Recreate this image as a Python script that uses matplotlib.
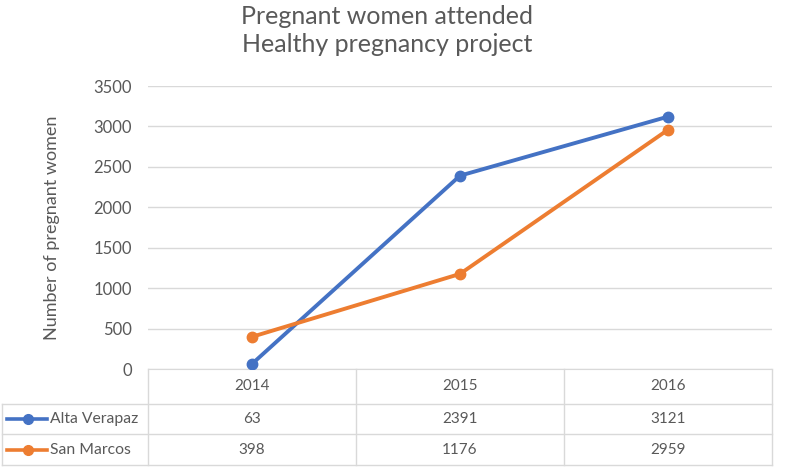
import matplotlib.pyplot as plt
from matplotlib.lines import Line2D

years = ['2014', '2015', '2016']
alta_verapaz = [63, 2391, 3121]
san_marcos = [398, 1176, 2959]
series_names = ['Alta Verapaz', 'San Marcos']
colors = ['#4472C4', '#ED7D31']

plt.rcParams['font.family'] = ['Lato', 'DejaVu Sans']
W, H = 787, 469
fig = plt.figure(figsize=(W / 100, H / 100), dpi=100)

def fx(px):
    return px / W

def fy(py):
    return 1 - py / H

x0, x1, ytop, ybot = 148, 772, 86, 369
ax = fig.add_axes([fx(x0), fy(ybot), fx(x1) - fx(x0), fy(ytop) - fy(ybot)])
xs = range(len(years))
for vals, c in zip([alta_verapaz, san_marcos], colors):
    ax.plot(xs, vals, color=c, lw=2.8, marker='o', ms=7.5, zorder=3)
ax.set_xlim(-0.5, len(years) - 0.5)
ax.set_ylim(0, 3500)
ax.set_yticks(range(0, 3501, 500))
ax.grid(axis='y', color='#D9D9D9', lw=1)
ax.set_xticks([])
for s in ['top', 'right', 'left']:
    ax.spines[s].set_visible(False)
ax.spines['bottom'].set_color('#D9D9D9')
ax.tick_params(axis='y', length=0, pad=11.5, labelsize=12, labelcolor='#595959')
ax.set_ylabel('Number of pregnant women', fontsize=13, color='#595959')
ax.yaxis.set_label_coords(fx(60), 0.5 * (fy(ytop) + fy(ybot)), transform=fig.transFigure)

fig.text(fx(387), fy(16), 'Pregnant women attended', ha='center', va='center',
         fontsize=18, color='#595959')
fig.text(fx(387), fy(45), 'Healthy pregnancy project', ha='center', va='center',
         fontsize=18, color='#595959')

# data table below the plot
grid_c = '#D9D9D9'
rows_y = [369, 404, 434, 465]
col_x = [x0 + i * (x1 - x0) / len(years) for i in range(len(years) + 1)]

def hline(y, xa, xb):
    fig.add_artist(Line2D([fx(xa), fx(xb)], [fy(y), fy(y)], color=grid_c, lw=1))

def vline(x, ya, yb):
    fig.add_artist(Line2D([fx(x), fx(x)], [fy(ya), fy(yb)], color=grid_c, lw=1))

for y in rows_y[1:]:
    hline(y, 2, x1)
for x in col_x:
    vline(x, rows_y[0], rows_y[-1])
vline(2, rows_y[1], rows_y[-1])

for i, yr in enumerate(years):
    cx = (col_x[i] + col_x[i + 1]) / 2
    fig.text(fx(cx), fy((rows_y[0] + rows_y[1]) / 2), yr, ha='center', va='center',
             fontsize=11, color='#595959')
    for r, vals in enumerate([alta_verapaz, san_marcos]):
        fig.text(fx(cx), fy((rows_y[r + 1] + rows_y[r + 2]) / 2), str(vals[i]),
                 ha='center', va='center', fontsize=11, color='#595959')

for r, (name, c) in enumerate(zip(series_names, colors)):
    yc = fy((rows_y[r + 1] + rows_y[r + 2]) / 2)
    fig.add_artist(Line2D([fx(7), fx(47)], [yc, yc], color=c, lw=2.6))
    fig.add_artist(Line2D([fx(28)], [yc], color=c, marker='o', ms=7))
    fig.text(fx(50), yc, name, ha='left', va='center', fontsize=11.3, color='#595959')

fig.savefig('out.png', dpi=100)
